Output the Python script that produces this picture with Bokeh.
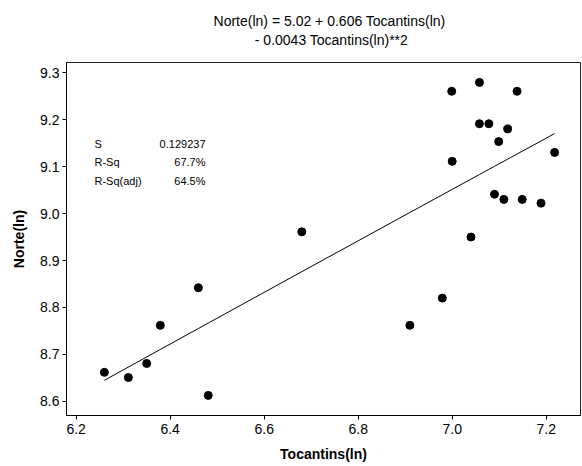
import numpy as np
from bokeh.plotting import figure
from bokeh.layouts import column
from bokeh.models import Label, Range1d, FixedTicker
from bokeh.core.properties import value
from bokeh.embed import file_html
from bokeh.resources import INLINE

# Data
tocantins = [6.260, 6.311, 6.350, 6.379, 6.460, 6.481, 6.680, 6.910, 6.979, 6.999,
             7.000, 7.040, 7.058, 7.058, 7.078, 7.090, 7.099, 7.110, 7.118, 7.138,
             7.149, 7.189, 7.218]
norte = [8.662, 8.651, 8.681, 8.762, 8.842, 8.613, 8.961, 8.762, 8.820, 9.260,
         9.111, 8.950, 9.279, 9.191, 9.191, 9.041, 9.153, 9.030, 9.180, 9.260,
         9.030, 9.022, 9.130]

# Regression coefficients from the title (b0, b1, b2)
fit_coef = [5.02, 0.606, -0.0043]

x_ticks = [6.2, 6.4, 6.6, 6.8, 7.0, 7.2]
x_tick_labels = ["6.2", "6.4", "6.6", "6.8", "7.0", "7.2"]
y_ticks = [8.6, 8.7, 8.8, 8.9, 9.0, 9.1, 9.2, 9.3]
y_tick_labels = ["8.6", "8.7", "8.8", "8.9", "9.0", "9.1", "9.2", "9.3"]

stat_names = ["S", "R-Sq", "R-Sq(adj)"]
stat_values = ["0.129237", "67.7%", "64.5%"]

title_lines = ["Norte(ln) =  5.02 + 0.606 Tocantins(ln)",
               "- 0.0043 Tocantins(ln)**2"]

FONT = "Liberation Sans"

# ---- title strip (text only) ----
t = figure(width=582, height=62, output_backend="svg", toolbar_location=None,
           x_range=Range1d(0, 582), y_range=Range1d(62, 0),
           x_axis_type=None, y_axis_type=None,
           min_border_left=0, min_border_right=0, min_border_top=0,
           min_border_bottom=0, outline_line_color=None)
t.xgrid.grid_line_color = None
t.ygrid.grid_line_color = None
t.text(x=[300, 300], y=[20, 39], text=title_lines, text_align="center",
       text_baseline="middle", text_font=value(FONT), text_font_size="14px",
       text_color="black")

# ---- main plot ----
p = figure(width=582, height=404, output_backend="svg", toolbar_location=None,
           x_range=Range1d(6.1794, 7.273), y_range=Range1d(8.5702, 9.3213),
           min_border_left=66, min_border_right=2, min_border_top=0,
           min_border_bottom=51, background_fill_color="white",
           border_fill_color="white")

p.xgrid.grid_line_color = None
p.ygrid.grid_line_color = None
p.outline_line_color = "#222222"
p.outline_line_width = 1

for ax in (p.xaxis[0], p.yaxis[0]):
    ax.major_tick_in = 0
    ax.major_tick_out = 4
    ax.minor_tick_line_color = None
    ax.axis_line_color = "black"
    ax.major_tick_line_color = "black"
    ax.major_label_text_font = FONT
    ax.major_label_text_font_size = "14px"
    ax.major_label_text_color = "black"
    ax.axis_label_text_font = FONT
    ax.axis_label_text_font_size = "14px"
    ax.axis_label_text_font_style = "bold"
    ax.axis_label_text_color = "black"

p.xaxis.ticker = FixedTicker(ticks=x_ticks)
p.yaxis.ticker = FixedTicker(ticks=y_ticks)
p.xaxis.major_label_overrides = {tk: lb for tk, lb in zip(x_ticks, x_tick_labels)}
p.yaxis.major_label_overrides = {tk: lb for tk, lb in zip(y_ticks, y_tick_labels)}
p.xaxis.axis_label = "Tocantins(ln)"
p.yaxis.axis_label = "Norte(ln)"
p.xaxis.major_label_standoff = 4
p.yaxis.major_label_standoff = 3
p.xaxis.axis_label_standoff = 9
p.yaxis.axis_label_standoff = 10

# fitted curve
xs = np.sort(np.array(tocantins))
ys = fit_coef[0] + fit_coef[1] * xs + fit_coef[2] * xs ** 2
p.line(xs, ys, line_color="black", line_width=1)

p.scatter(tocantins, norte, size=8, color="black", marker="circle")

# stats box (screen units relative to frame bottom-left)
for i, (n, v) in enumerate(zip(stat_names, stat_values)):
    yy = 272 - 18.5 * i
    p.add_layout(Label(x=28, y=yy, x_units="screen", y_units="screen", text=n,
                       text_font=FONT, text_font_size="11px", text_align="left",
                       text_baseline="middle", text_color="black"))
    p.add_layout(Label(x=139, y=yy, x_units="screen", y_units="screen", text=v,
                       text_font=FONT, text_font_size="11px", text_align="right",
                       text_baseline="middle", text_color="black"))

layout = column(t, p, spacing=0)
open("out.html", "w").write(file_html(layout, INLINE))
